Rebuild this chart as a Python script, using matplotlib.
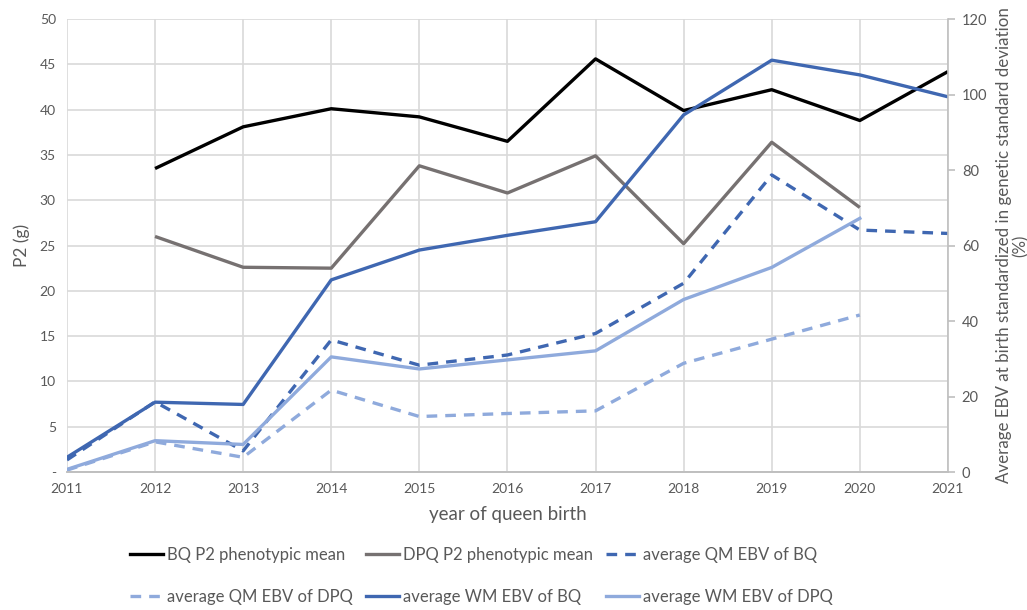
import numpy as np
import matplotlib.pyplot as plt
from matplotlib.lines import Line2D

plt.rcParams['font.family'] = ['Lato', 'DejaVu Sans']

years = list(range(2011, 2022))
nan = np.nan

# P2 phenotypic means (left axis, g)
bq_p2 = [nan, 33.5, 38.1, 40.1, 39.2, 36.5, 45.6, 39.9, 42.2, 38.8, 44.2]
dpq_p2 = [nan, 26.0, 22.6, 22.5, 33.8, 30.8, 34.9, 25.2, 36.4, 29.2, nan]

# standardized EBVs (right axis, %)
qm_bq = [3.2, 18.6, 5.6, 35.0, 28.3, 31.0, 36.7, 50.0, 78.7, 64.1, 63.2]
qm_dpq = [0.5, 8.0, 3.9, 21.7, 14.7, 15.5, 16.2, 28.8, 35.2, 41.6, nan]
wm_bq = [3.9, 18.5, 17.9, 50.9, 58.8, 62.7, 66.3, 94.6, 109.1, 105.2, 99.4]
wm_dpq = [0.7, 8.3, 7.3, 30.5, 27.3, 29.7, 32.1, 45.7, 54.2, 67.2, nan]

left_ticks = [0, 5, 10, 15, 20, 25, 30, 35, 40, 45, 50]
left_labels = ['-'] + [str(v) for v in left_ticks[1:]]
right_ticks = [0, 20, 40, 60, 80, 100, 120]

BLACK = '#000000'
GRAY = '#767171'
DARK = '#3F67B1'
LIGHT = '#8FAADC'
TXT = '#595959'
GRID = '#D9D9D9'
lw = 2.4
dash = (3.2, 2.4)

fig = plt.figure(figsize=(10.27, 6.1), dpi=100)
ax = fig.add_axes([0.0652, 0.2262, 0.8578, 0.7426])
ax2 = ax.twinx()

ax.plot(years, bq_p2, color=BLACK, lw=lw, solid_capstyle='butt')
ax.plot(years, dpq_p2, color=GRAY, lw=lw, solid_capstyle='butt')

ax2.plot(years, qm_bq, color=DARK, lw=lw, dashes=dash)
ax2.plot(years, qm_dpq, color=LIGHT, lw=lw, dashes=dash)
ax2.plot(years, wm_bq, color=DARK, lw=lw)
ax2.plot(years, wm_dpq, color=LIGHT, lw=lw)

ax.set_xlim(2011, 2021)
ax.set_ylim(0, 50)
ax2.set_ylim(0, 120)
ax.set_xticks(years)
ax.set_xticklabels([str(y) for y in years])
ax.set_yticks(left_ticks)
ax.set_yticklabels(left_labels)
ax2.set_yticks(right_ticks)

ax.grid(True, color=GRID, lw=1.2)
ax.set_axisbelow(True)

for a in (ax, ax2):
    for side in ('top', 'left', 'right'):
        a.spines[side].set_visible(False)
    a.spines['bottom'].set_color('#BFBFBF')
    a.spines['bottom'].set_linewidth(1.2)
ax2.spines['right'].set_visible(True)
ax2.spines['right'].set_color('#BFBFBF')
ax2.spines['right'].set_linewidth(1.2)

ax.tick_params(axis='both', length=0, labelsize=10, colors=TXT, pad=8)
ax2.tick_params(axis='y', length=5, width=1.2, color='#BFBFBF', labelsize=10.5, labelcolor=TXT, pad=5)

ax.set_ylabel('P2 (g)', fontsize=12.5, color=TXT, labelpad=7)
ax.set_xlabel('year of queen birth', fontsize=13.5, color=TXT, labelpad=8)
ax2.set_ylabel('Average EBV at birth standardized in genetic standard deviation\n(%)',
               fontsize=12.2, color=TXT, labelpad=6, linespacing=1.05)

handles = [
    Line2D([], [], color=BLACK, lw=lw),
    Line2D([], [], color=LIGHT, lw=lw, dashes=dash),
    Line2D([], [], color=GRAY, lw=lw),
    Line2D([], [], color=DARK, lw=lw),
    Line2D([], [], color=DARK, lw=lw, dashes=dash),
    Line2D([], [], color=LIGHT, lw=lw),
]
labels = [
    'BQ P2 phenotypic mean', 'average QM EBV of DPQ',
    'DPQ P2 phenotypic mean', 'average WM EBV of BQ',
    'average QM EBV of BQ', 'average WM EBV of DPQ',
]
leg = fig.legend(handles, labels, ncol=3, loc='lower left', bbox_to_anchor=(0.112, -0.016),
                 frameon=False, fontsize=12, handlelength=2.0, handletextpad=0.2,
                 columnspacing=0.8, labelspacing=1.55)
for t in leg.get_texts():
    t.set_color(TXT)

fig.savefig('out.png', dpi=100)
